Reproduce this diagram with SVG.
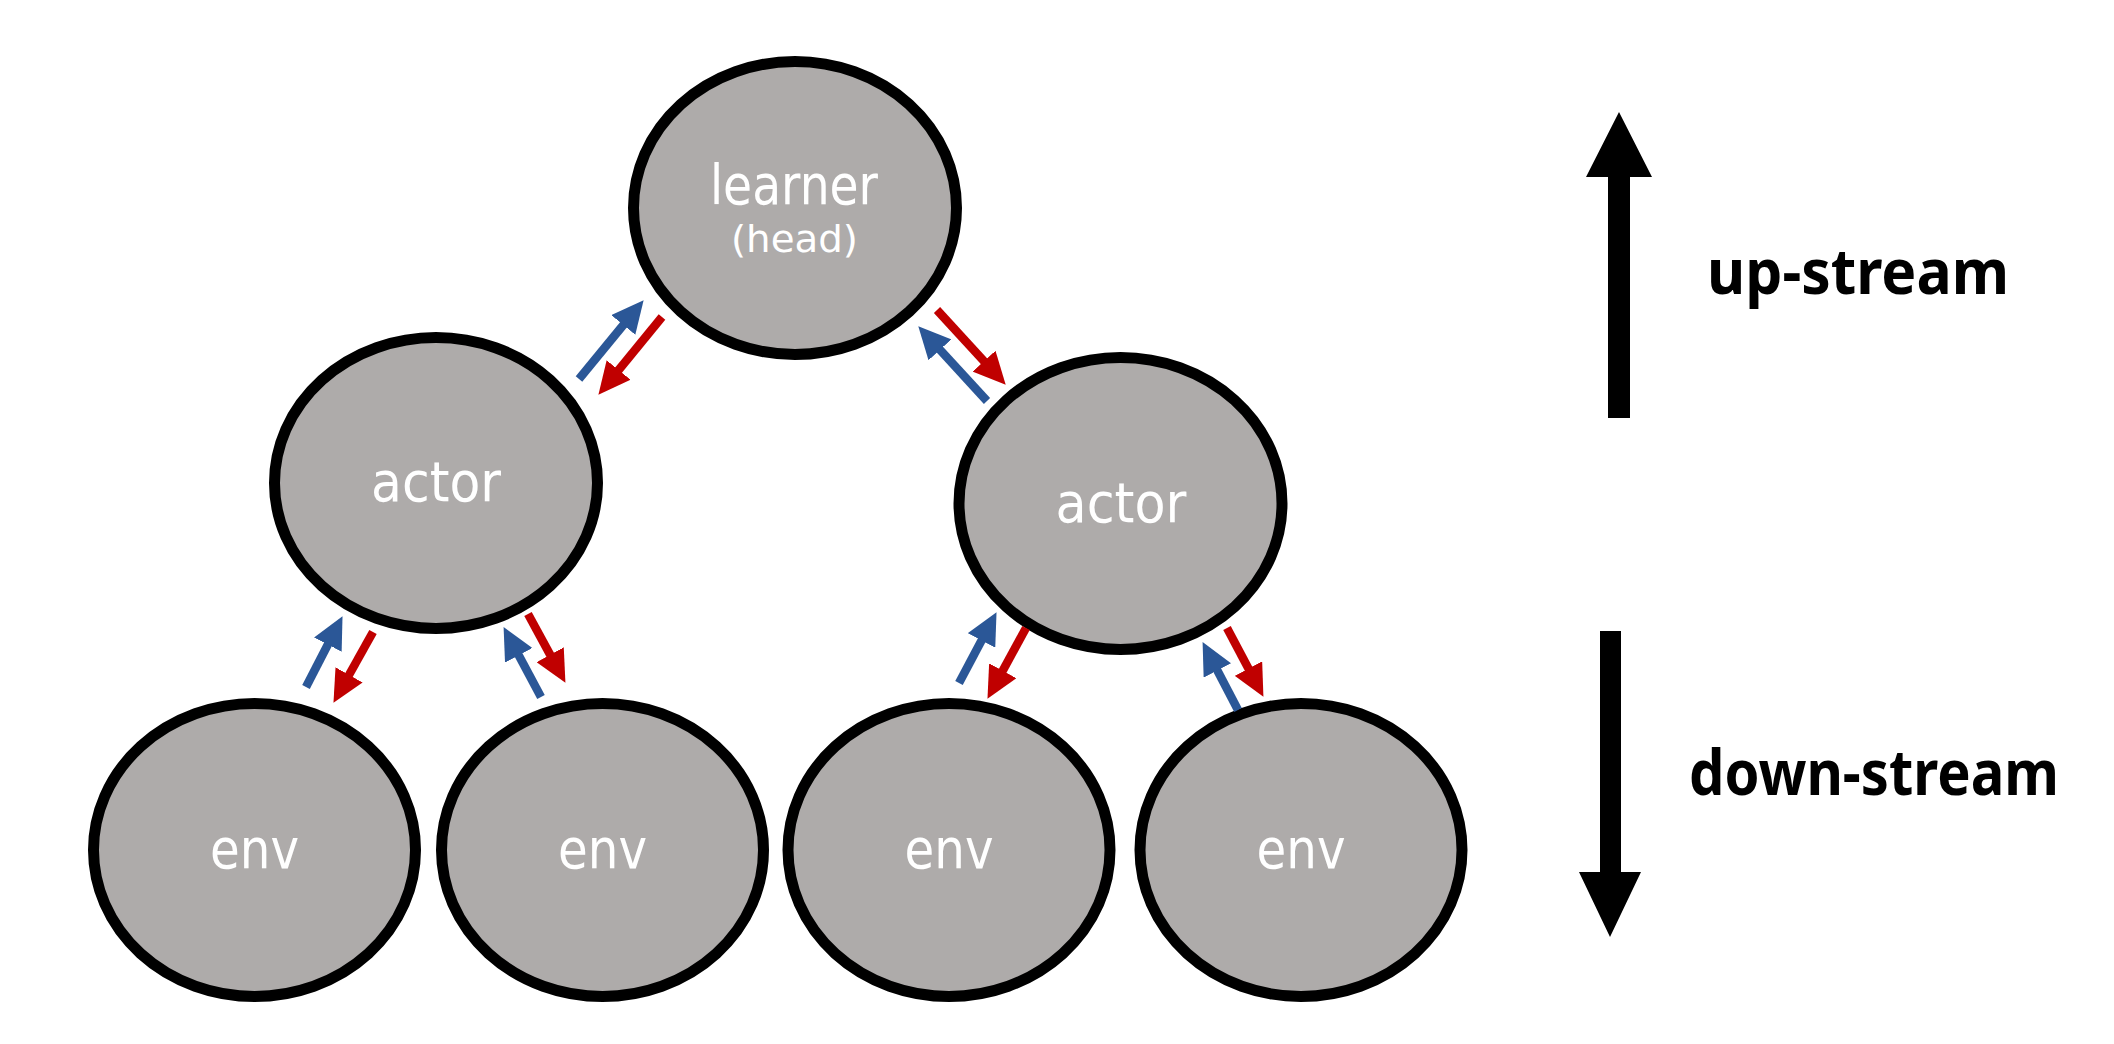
<svg xmlns="http://www.w3.org/2000/svg" width="2114" height="1044" viewBox="0 0 2114 1044">
<style>
.node{fill:#AEABAA;stroke:#000;stroke-width:11}
.lbl{fill:#fff;font-family:"DejaVu Sans","Liberation Sans",sans-serif;font-size:55px;text-anchor:middle}
.side{fill:#000;font-family:"Noto Sans","Liberation Sans",sans-serif;font-weight:bold;font-size:62px}
.b{stroke:#2B5797;stroke-width:8.5;fill:none}
.r{stroke:#C00000;stroke-width:8.5;fill:none}
</style>
<defs>
<marker id="hb" markerUnits="userSpaceOnUse" markerWidth="32" markerHeight="31" refX="11" refY="15.5" orient="auto"><path d="M0,0 L32,15.5 L0,31 z" fill="#2B5797"/></marker>
<marker id="hr" markerUnits="userSpaceOnUse" markerWidth="32" markerHeight="31" refX="11" refY="15.5" orient="auto"><path d="M0,0 L32,15.5 L0,31 z" fill="#C00000"/></marker>
</defs>
<rect width="2114" height="1044" fill="#fff"/>
<g id="learner"><ellipse class="node" cx="795" cy="208" rx="161.5" ry="146.5"/><text class="lbl" x="794" y="204" textLength="168" lengthAdjust="spacingAndGlyphs">learner</text><text class="lbl" x="794.5" y="252" style="font-size:38px" textLength="127" lengthAdjust="spacingAndGlyphs">(head)</text></g>
<g id="actor1"><ellipse class="node" cx="436" cy="483" rx="161.5" ry="145.5"/><text class="lbl" x="436" y="501" textLength="130" lengthAdjust="spacingAndGlyphs">actor</text></g>
<g id="actor2"><ellipse class="node" cx="1120.5" cy="503.5" rx="161.5" ry="146"/><text class="lbl" x="1121" y="522" textLength="131" lengthAdjust="spacingAndGlyphs">actor</text></g>
<g id="env1"><ellipse class="node" cx="254.5" cy="850" rx="161" ry="146.5"/><text class="lbl" x="254.5" y="868" textLength="89" lengthAdjust="spacingAndGlyphs">env</text></g>
<g id="env2"><ellipse class="node" cx="602.5" cy="850" rx="161" ry="146.5"/><text class="lbl" x="602.5" y="868" textLength="89" lengthAdjust="spacingAndGlyphs">env</text></g>
<g id="env3"><ellipse class="node" cx="949" cy="850" rx="161" ry="146.5"/><text class="lbl" x="949" y="868" textLength="89" lengthAdjust="spacingAndGlyphs">env</text></g>
<g id="env4"><ellipse class="node" cx="1301" cy="850" rx="161" ry="146.5"/><text class="lbl" x="1301" y="868" textLength="89" lengthAdjust="spacingAndGlyphs">env</text></g>
<g id="connectors">
<line class="b" x1="579" y1="379" x2="630.3" y2="316.5" marker-end="url(#hb)"/>
<line class="r" x1="662" y1="317" x2="611.7" y2="378.5" marker-end="url(#hr)"/>
<line class="r" x1="937" y1="310" x2="991.5" y2="369.3" marker-end="url(#hr)"/>
<line class="b" x1="987" y1="401" x2="932.5" y2="341.7" marker-end="url(#hb)"/>
<line class="b" x1="306" y1="687" x2="332.9" y2="634.8" marker-end="url(#hb)"/>
<line class="r" x1="373" y1="632" x2="343.7" y2="684.5" marker-end="url(#hr)"/>
<line class="r" x1="528" y1="614" x2="555.4" y2="664.4" marker-end="url(#hr)"/>
<line class="b" x1="541" y1="697" x2="513.5" y2="645.6" marker-end="url(#hb)"/>
<line class="b" x1="959" y1="683" x2="986.7" y2="630.7" marker-end="url(#hb)"/>
<line class="r" x1="1026" y1="628" x2="997.5" y2="680.4" marker-end="url(#hr)"/>
<line class="r" x1="1227" y1="628" x2="1253.6" y2="678.3" marker-end="url(#hr)"/>
<line class="b" x1="1238" y1="710" x2="1212.3" y2="660.7" marker-end="url(#hb)"/>
</g>
<g id="upstream">
<path d="M1608,418 L1608,177 L1586,177 L1619,112 L1652,177 L1630,177 L1630,418 z" fill="#000"/>
<text class="side" x="1707" y="294" textLength="302" lengthAdjust="spacingAndGlyphs">up-stream</text>
</g>
<g id="downstream">
<path d="M1600,631 L1600,872 L1579,872 L1610,937 L1641,872 L1621,872 L1621,631 z" fill="#000"/>
<text class="side" x="1689" y="795" textLength="370" lengthAdjust="spacingAndGlyphs">down-stream</text>
</g>
</svg>
